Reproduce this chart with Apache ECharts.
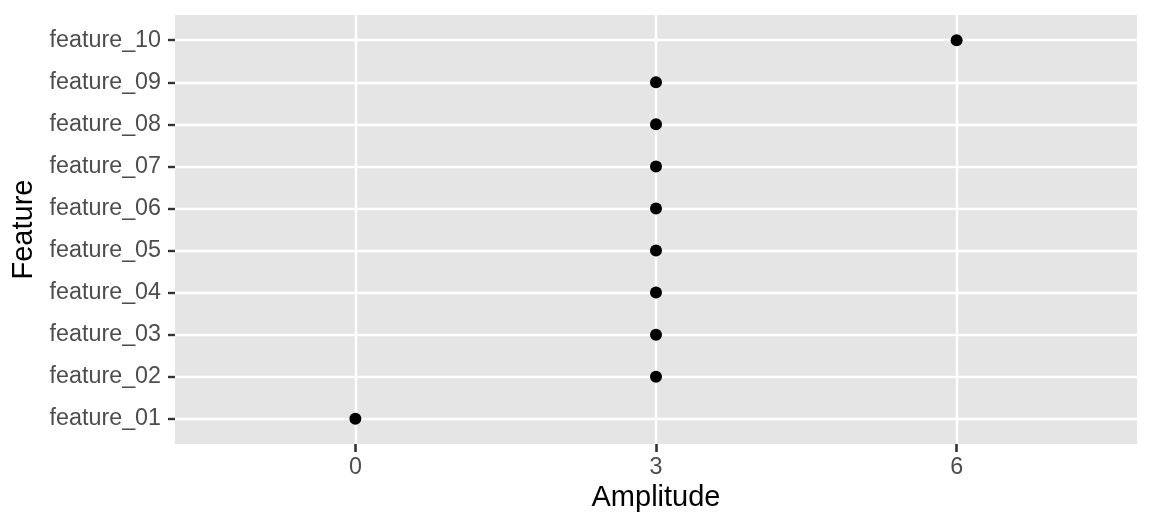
<!DOCTYPE html>
<html>
<head>
<meta charset="utf-8">
<script src="https://cdn.jsdelivr.net/npm/echarts@6/dist/echarts.min.js"></script>
<style>
html,body{margin:0;padding:0;background:#fff;}
#chart{width:1152px;height:528px;}
</style>
</head>
<body>
<div id="chart"></div>
<script>
const categories = ['feature_01','feature_02','feature_03','feature_04','feature_05','feature_06','feature_07','feature_08','feature_09','feature_10'];
const amplitude = [0, 3, 3, 3, 3, 3, 3, 3, 3, 6];
const xTicks = [0, 3, 6];
const xTitle = 'Amplitude';
const yTitle = 'Feature';

const FONT = '"Liberation Sans", Arial, Helvetica, sans-serif';
const yPositions = categories.map((c, i) => i + 1);
const points = amplitude.map((v, i) => [v, i + 1]);

const chart = echarts.init(document.getElementById('chart'), null, {renderer: 'canvas'});
chart.setOption({
  animation: false,
  backgroundColor: '#ffffff',
  grid: {left: 175, right: 15, top: 15, bottom: 84, containLabel: false,
         show: true, backgroundColor: '#E5E5E5', borderWidth: 0},
  xAxis: {
    type: 'value', min: -1.8, max: 7.8, position: 'bottom',
    name: xTitle, nameLocation: 'middle', nameGap: 31,
    nameTextStyle: {color: '#000', fontSize: 29, fontFamily: FONT},
    axisLine: {show: false, onZero: false},
    axisTick: {show: true, inside: false, length: 8, customValues: xTicks, lineStyle: {color: '#333333', width: 2.6}},
    axisLabel: {show: true, customValues: xTicks, margin: 12, color: '#4D4D4D', fontSize: 23.3, fontFamily: FONT},
    splitLine: {show: true, lineStyle: {color: '#ffffff', width: 2.4}}
  },
  yAxis: {
    type: 'value', min: 0.4, max: 10.6,
    name: yTitle, nameLocation: 'middle', nameGap: 136,
    nameTextStyle: {color: '#000', fontSize: 29, fontFamily: FONT},
    axisLine: {show: false, onZero: false},
    axisTick: {show: true, length: 7, customValues: yPositions, lineStyle: {color: '#333333', width: 2.4}},
    axisLabel: {show: true, customValues: yPositions, margin: 14, color: '#4D4D4D', fontSize: 23.3, fontFamily: FONT,
      formatter: v => categories[Math.round(v) - 1] || ''},
    splitLine: {show: true, lineStyle: {color: '#ffffff', width: 2.4}}
  },
  series: [{
    type: 'scatter',
    data: points,
    symbol: 'circle',
    symbolSize: 12,
    itemStyle: {color: '#000000', opacity: 1},
    emphasis: {disabled: true}
  }]
});
</script>
</body>
</html>
